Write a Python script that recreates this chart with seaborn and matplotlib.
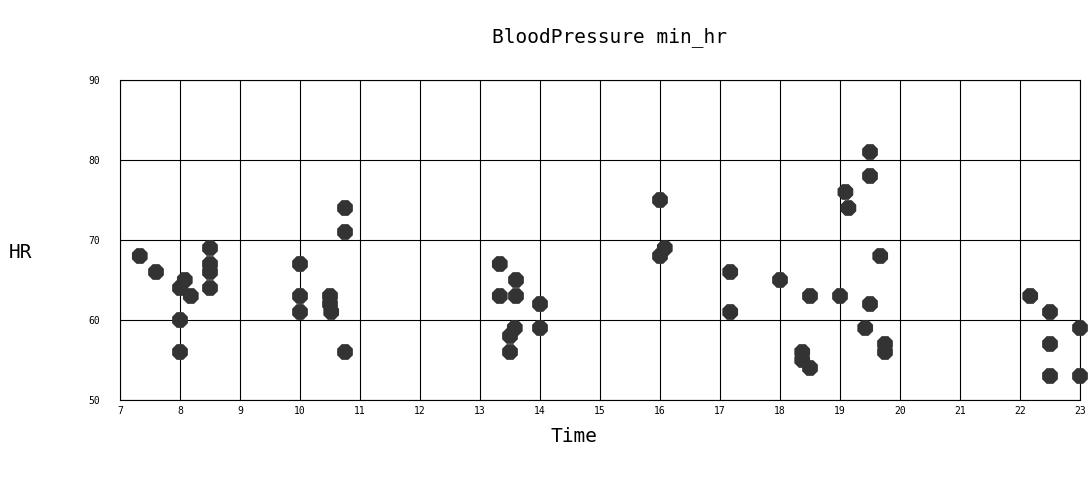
import pandas as pd
import seaborn as sns
import matplotlib.pyplot as plt

# hour of day and minimum heart rate readings
time = [7.33, 7.6, 8.0, 8.08, 8.18, 8.0, 8.0, 8.5, 8.5, 8.5, 8.5,
        10.0, 10.0, 10.0, 10.5, 10.5, 10.52, 10.75, 10.75, 10.75,
        13.33, 13.33, 13.6, 13.6, 13.58, 13.5, 13.5, 14.0, 14.0,
        16.0, 16.0, 16.08,
        17.17, 17.17, 18.0, 18.5, 19.0, 18.5, 18.37, 18.37,
        19.09, 19.14, 19.5, 19.5, 19.67, 19.5, 19.42, 19.75, 19.75,
        22.17, 22.5, 22.5, 22.5, 23.0, 23.0]
hr = [68, 66, 64, 65, 63, 60, 56, 69, 67, 66, 64,
      67, 63, 61, 63, 62, 61, 74, 71, 56,
      67, 63, 65, 63, 59, 58, 56, 62, 59,
      75, 68, 69,
      66, 61, 65, 63, 63, 54, 56, 55,
      76, 74, 81, 78, 68, 62, 59, 57, 56,
      63, 61, 57, 53, 59, 53]

x_ticks = list(range(7, 24))
y_ticks = [50, 60, 70, 80, 90]

df = pd.DataFrame({"Time": time, "HR": hr})

sns.set_style("white")
plt.rcParams['font.family'] = ['DejaVu Sans Mono', 'DejaVu Sans']
plt.rcParams['text.color'] = 'black'

fig = plt.figure(figsize=(10.9, 5), dpi=100)
ax = fig.add_axes([120 / 1090, 0.2, 960 / 1090, 0.64])

sns.scatterplot(data=df, x="Time", y="HR", ax=ax, marker="8", s=150,
                color="#333333", edgecolor="none", clip_on=False, zorder=3)

ax.set_xlim(7, 23)
ax.set_ylim(50, 90)
ax.set_xticks(x_ticks)
ax.set_yticks(y_ticks)
ax.tick_params(axis="both", length=0, labelsize=7, colors="black")
ax.tick_params(axis="x", pad=4)
ax.tick_params(axis="y", pad=14)
ax.grid(True, color="black", linewidth=0.8)
ax.set_axisbelow(True)
for sp in ax.spines.values():
    sp.set_color("black")
    sp.set_linewidth(0.8)

ax.set_xlabel("")
ax.set_ylabel("")
fig.text(574 / 1090, 1 - 437 / 500, "Time", fontsize=14, ha="center", va="center")
fig.text(20 / 1090, 1 - 252 / 500, "HR", fontsize=14, ha="center", va="center")
fig.text(610 / 1090, 1 - 37 / 500, "BloodPressure min_hr", fontsize=14,
         ha="center", va="center")

fig.savefig("out.png", dpi=100, facecolor="white")
